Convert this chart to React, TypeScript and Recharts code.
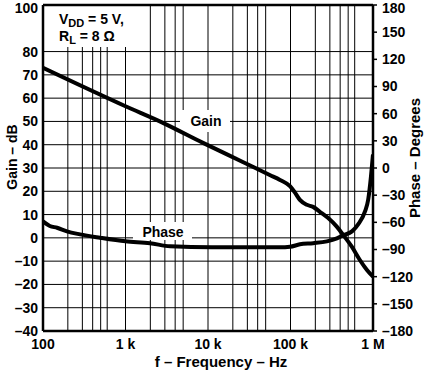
import { LineChart, Line, XAxis, YAxis, CartesianGrid, ReferenceLine } from "recharts";

// gain curve
const gainFreq = [100, 1000, 2840, 8700, 26400, 56000, 74600, 98600, 114000, 130000, 158000, 188000, 227000, 284000, 366000, 434000, 556000, 690000, 840000, 1000000];
const gainDb = [73, 56.5, 49.4, 40.8, 32.6, 27, 24.9, 22.2, 19.3, 16.3, 14.2, 13.3, 11.2, 8.6, 4.7, 1.3, -3.9, -9.4, -13.7, -16.7];

// phase curve
const phaseFreq = [100, 121, 148, 195, 281, 490, 1000, 1980, 3480, 11200, 74600, 98600, 130000, 188000, 276000, 365000, 434000, 556000, 660000, 800000, 875000, 945000, 1000000];
const phaseDeg = [-59, -64, -66, -70, -73.3, -77, -81, -83, -86.5, -87.6, -87.6, -87, -84.3, -83, -81, -77.7, -74.4, -70, -62.3, -48, -34.8, -9.4, 15];

const decadeTicks = [100, 1000, 10000, 100000, 1000000];
const decadeLabels = ["100", "1 k", "10 k", "100 k", "1 M"];
const gainTicks = [-40, -30, -20, -10, 0, 10, 20, 30, 40, 50, 60, 70, 80, 90, 100];
const phaseTicks = [-180, -150, -120, -90, -60, -30, 0, 30, 60, 90, 120, 150, 180];

const minorFreqs: number[] = [];
for (const d of [100, 1000, 10000, 100000]) {
  for (let k = 1; k <= 10; k++) minorFreqs.push(d * k);
}

const gainData = gainFreq.map((f, i) => ({ f, v: gainDb[i] }));
const phaseData = phaseFreq.map((f, i) => ({ f, v: phaseDeg[i] }));

const FONT = "'Liberation Sans', Arial, sans-serif";
const TICK = { fontSize: 14, fontWeight: 700, fill: "#000", fontFamily: FONT } as const;
const dash = (v: number) => (v < 0 ? `\u2013${Math.abs(v)}` : `${v}`);

export default function App() {
  return (
    <div style={{ position: "absolute", left: 0, top: 0, width: 425, height: 375, background: "#fff" }}>
      <LineChart width={425} height={375} margin={{ top: 5, right: 0, bottom: 0, left: 0 }}>
        <CartesianGrid
          yAxisId="gain"
          stroke="#000"
          strokeWidth={1}
          verticalValues={minorFreqs}
          horizontalValues={gainTicks}
        />
        <XAxis
          dataKey="f"
          type="number"
          scale="log"
          domain={[100, 1000000]}
          ticks={decadeTicks}
          allowDataOverflow
          height={44}
          tick={TICK}
          tickLine={false}
          axisLine={false}
          tickSize={4}
          tickMargin={4}
          tickFormatter={(v: number) => decadeLabels[decadeTicks.indexOf(v)] ?? ""}
        />
        <YAxis
          yAxisId="gain"
          domain={[-40, 100]}
          ticks={gainTicks}
          width={43}
          tick={TICK}
          tickLine={false}
          axisLine={false}
          tickSize={0}
          tickMargin={5}
          tickFormatter={dash}
        />
        <YAxis
          yAxisId="phase"
          orientation="right"
          domain={[-180, 180]}
          ticks={phaseTicks}
          width={52}
          tick={TICK}
          tickLine={{ stroke: "#000", strokeWidth: 1.5 }}
          axisLine={false}
          tickSize={4}
          tickMargin={5}
          tickFormatter={dash}
        />
        {/* frame */}
        <ReferenceLine yAxisId="gain" y={100} stroke="#000" strokeWidth={2.5} />
        <ReferenceLine yAxisId="gain" y={-40} stroke="#000" strokeWidth={2.5} />
        <ReferenceLine yAxisId="gain" x={100} stroke="#000" strokeWidth={2.5} />
        <ReferenceLine yAxisId="gain" x={1000000} stroke="#000" strokeWidth={2.5} />

        {/* white label boxes */}
        <rect x={44} y={6} width={103} height={41} fill="#fff" />
        <rect x={180} y={110} width={50} height={22} fill="#fff" />
        <rect x={133} y={222} width={59} height={18} fill="#fff" />

        <Line
          yAxisId="gain"
          data={gainData}
          dataKey="v"
          type="monotone"
          stroke="#000"
          strokeWidth={4}
          dot={false}
          isAnimationActive={false}
        />
        <Line
          yAxisId="phase"
          data={phaseData}
          dataKey="v"
          type="monotone"
          stroke="#000"
          strokeWidth={4}
          dot={false}
          isAnimationActive={false}
        />

        <g fontFamily={FONT} fontWeight={700} fill="#000">
          <text x={59} y={24} fontSize={14}>
            V<tspan fontSize={11} dy={3}>DD</tspan>
            <tspan dy={-3}> = 5 V,</tspan>
          </text>
          <text x={59} y={41} fontSize={14}>
            R<tspan fontSize={11} dy={3}>L</tspan>
            <tspan dy={-3}> = 8 Ω</tspan>
          </text>
          <text x={206} y={126} fontSize={14} textAnchor="middle">Gain</text>
          <text x={163} y={237} fontSize={14} textAnchor="middle">Phase</text>
          <text x={221} y={367} fontSize={15} textAnchor="middle">f – Frequency – Hz</text>
          <text x={17} y={157} fontSize={14} textAnchor="middle" transform="rotate(-90 17 157)">Gain – dB</text>
          <text x={420} y={158} fontSize={15} textAnchor="middle" transform="rotate(-90 420 158)">Phase – Degrees</text>
        </g>
      </LineChart>
    </div>
  );
}
